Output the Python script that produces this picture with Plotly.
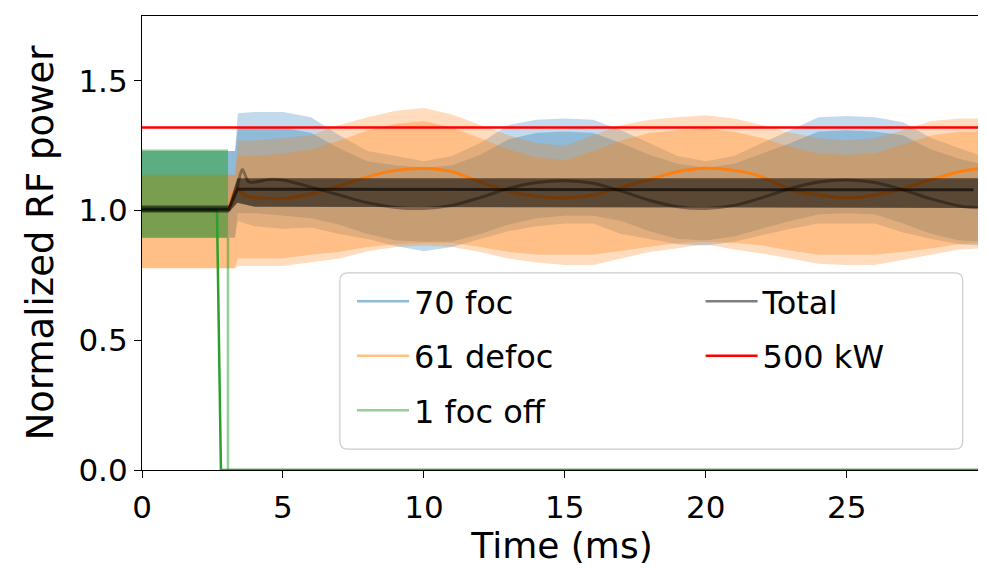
import plotly.graph_objects as go

# time grid (ms) used for the envelopes
t_env = [0, 3.3, 3.4, 4, 5, 6, 7, 8, 9, 10, 11, 12, 13, 14, 15, 16, 17, 18, 19, 20,
         21, 22, 23, 24, 25, 26, 27, 28, 29, 29.8]

# 70 foc: envelopes of the fast oscillation (outer = spike tips, inner = solid part)
foc_up_out = [1.23, 1.23, 1.375, 1.38, 1.38, 1.36, 1.29, 1.23, 1.21, 1.19, 1.21, 1.26, 1.33, 1.35,
              1.355, 1.35, 1.31, 1.26, 1.21, 1.19, 1.21, 1.26, 1.31, 1.36, 1.365, 1.36, 1.34,
              1.28, 1.24, 1.21]
foc_up_in = [1.23, 1.23, 1.32, 1.32, 1.32, 1.30, 1.24, 1.19, 1.175, 1.165, 1.175, 1.215, 1.275,
             1.30, 1.305, 1.30, 1.26, 1.215, 1.18, 1.165, 1.18, 1.22, 1.26, 1.305, 1.31, 1.305,
             1.29, 1.235, 1.20, 1.18]
foc_lo_in = [0.895, 0.895, 0.99, 0.99, 0.98, 0.97, 0.945, 0.91, 0.885, 0.88, 0.88, 0.91, 0.945,
             0.97, 0.98, 0.98, 0.96, 0.92, 0.89, 0.885, 0.90, 0.93, 0.96, 0.985, 0.99, 0.985,
             0.95, 0.91, 0.885, 0.88]
foc_lo_out = [0.895, 0.895, 0.96, 0.94, 0.93, 0.935, 0.91, 0.89, 0.863, 0.843, 0.86, 0.89, 0.92,
              0.94, 0.95, 0.95, 0.91, 0.89, 0.87, 0.865, 0.88, 0.905, 0.93, 0.95, 0.95, 0.95,
              0.915, 0.89, 0.87, 0.865]

# 61 defoc
defoc_up_out = [1.138, 1.138, 1.27, 1.27, 1.28, 1.29, 1.33, 1.36, 1.385, 1.395, 1.37, 1.33, 1.29,
                1.26, 1.25, 1.29, 1.33, 1.35, 1.36, 1.367, 1.355, 1.33, 1.30, 1.28, 1.27, 1.28,
                1.31, 1.345, 1.355, 1.355]
defoc_up_in = [1.138, 1.138, 1.21, 1.21, 1.22, 1.235, 1.27, 1.31, 1.335, 1.345, 1.32, 1.28, 1.235,
               1.205, 1.195, 1.23, 1.27, 1.30, 1.31, 1.315, 1.305, 1.28, 1.245, 1.22, 1.215,
               1.22, 1.255, 1.29, 1.305, 1.305]
defoc_lo_in = [0.778, 0.778, 0.815, 0.815, 0.815, 0.83, 0.84, 0.86, 0.87, 0.875, 0.875, 0.86,
               0.84, 0.83, 0.83, 0.83, 0.845, 0.86, 0.875, 0.88, 0.875, 0.865, 0.845, 0.83,
               0.83, 0.83, 0.84, 0.855, 0.87, 0.875]
defoc_lo_out = [0.778, 0.778, 0.786, 0.786, 0.786, 0.80, 0.815, 0.843, 0.86, 0.865, 0.86, 0.84,
                0.815, 0.80, 0.79, 0.79, 0.815, 0.84, 0.855, 0.87, 0.85, 0.835, 0.815, 0.795,
                0.79, 0.79, 0.81, 0.83, 0.85, 0.855]

# slow average of 61 defoc
t_defoc_avg = [3.05, 3.38, 3.6, 4, 5, 6, 7, 8, 9, 10, 11, 12, 13, 14, 15, 16, 17, 18, 19, 20,
               21, 22, 23, 24, 25, 26, 27, 28, 29, 29.8]
defoc_avg = [1.0, 1.09, 1.06, 1.05, 1.047, 1.065, 1.095, 1.13, 1.155, 1.162, 1.15, 1.11,
             1.075, 1.055, 1.049, 1.06, 1.09, 1.12, 1.15, 1.163, 1.155, 1.13, 1.08, 1.06, 1.049,
             1.06, 1.085, 1.12, 1.15, 1.163]

# 1 foc off
t_off = [0, 3.05]
off_up = [1.235, 1.235]
off_lo = [0.895, 0.895]
t_off_line = [3.05, 3.05, 29.8]
off_line = [0.895, 0.0, 0.0]
t_off_avg = [0, 2.66, 2.8, 29.8]
off_avg = [1.0, 1.0, 0.0, 0.0]

# Total
t_tot = [0, 3.08, 3.38, 4, 29.8]
tot_up = [1.02, 1.02, 1.125, 1.125, 1.125]
tot_lo = [0.993, 0.993, 1.03, 1.015, 1.01]
t_tot_flat = [0, 3.08, 3.38, 29.5]
tot_flat = [1.005, 1.005, 1.082, 1.08]
t_tot_slow = [3.38, 3.56, 3.8, 4.5, 5, 6, 7, 8, 9, 10, 11, 12, 13, 14, 15, 16, 17, 18, 19, 20,
              21, 22, 23, 24, 25, 26, 27, 28, 29, 29.8]
tot_slow = [1.087, 1.158, 1.11, 1.12, 1.118, 1.09, 1.06, 1.03, 1.012, 1.008, 1.02, 1.05, 1.085,
            1.108, 1.115, 1.105, 1.075, 1.04, 1.015, 1.008, 1.02, 1.05, 1.085, 1.11, 1.118,
            1.108, 1.08, 1.045, 1.018, 1.01]

# 500 kW limit
t_limit = [0, 29.8]
limit = [1.32, 1.32]

FONT = "DejaVu Sans"
FS = 31


def band(t, upper, lower, color):
    # closed polygon between two envelopes
    return go.Scatter(x=list(t) + list(t)[::-1], y=list(upper) + list(lower)[::-1],
                      fill="toself", fillcolor=color, line=dict(width=0),
                      mode="lines", hoverinfo="skip", showlegend=False)


fig = go.Figure()

# 70 foc
fig.add_trace(band(t_env, foc_up_out, foc_up_in, "rgba(31,119,180,0.27)"))
fig.add_trace(band(t_env, foc_up_in, foc_lo_in, "rgba(31,119,180,0.5)"))
fig.add_trace(band(t_env, foc_lo_in, foc_lo_out, "rgba(31,119,180,0.27)"))
# 61 defoc
fig.add_trace(band(t_env, defoc_up_out, defoc_up_in, "rgba(255,127,14,0.27)"))
fig.add_trace(band(t_env, defoc_up_in, defoc_lo_in, "rgba(255,127,14,0.5)"))
fig.add_trace(band(t_env, defoc_lo_in, defoc_lo_out, "rgba(255,127,14,0.27)"))
# 1 foc off
fig.add_trace(band(t_off, off_up, off_lo, "rgba(44,160,44,0.5)"))
fig.add_trace(go.Scatter(x=t_off_line, y=off_line, mode="lines", showlegend=False,
                         line=dict(color="rgba(44,160,44,0.5)", width=2.5)))
fig.add_trace(go.Scatter(x=t_off_avg, y=off_avg, mode="lines", showlegend=False,
                         line=dict(color="#2ca02c", width=2.5)))
fig.add_trace(go.Scatter(x=t_defoc_avg, y=defoc_avg, mode="lines", showlegend=False,
                         line=dict(color="#ff7f0e", width=3, shape="spline", smoothing=0.8)))
# Total
fig.add_trace(band(t_tot, tot_up, tot_lo, "rgba(0,0,0,0.55)"))
fig.add_trace(go.Scatter(x=t_tot_slow, y=tot_slow, mode="lines", showlegend=False,
                         line=dict(color="rgba(0,0,0,0.35)", width=3, shape="spline",
                                   smoothing=0.8)))
fig.add_trace(go.Scatter(x=t_tot_flat, y=tot_flat, mode="lines", showlegend=False,
                         line=dict(color="rgba(0,0,0,0.6)", width=3)))
fig.add_trace(go.Scatter(x=t_limit, y=limit, mode="lines", showlegend=False,
                         line=dict(color="red", width=2.5)))

# legend entries (two columns like the original)
for name, color, lg, grp in [("70 foc", "rgba(31,119,180,0.5)", "legend", "a"),
                             ("61 defoc", "rgba(255,127,14,0.5)", "legend", "b"),
                             ("1 foc off", "rgba(44,160,44,0.5)", "legend", "c"),
                             ("Total", "rgba(0,0,0,0.5)", "legend2", "d"),
                             ("500 kW", "red", "legend2", "e")]:
    fig.add_trace(go.Scatter(x=[None], y=[None], mode="lines", name=name, legend=lg,
                             legendgroup=grp, line=dict(color=color, width=2.5)))

# rounded legend frame in paper coords
x0, x1, y0, y1 = 0.2356, 0.977, 0.046, 0.434
rx, ry = 0.0096, 0.0176
path = (f"M{x0 + rx},{y0} L{x1 - rx},{y0} Q{x1},{y0} {x1},{y0 + ry} "
        f"L{x1},{y1 - ry} Q{x1},{y1} {x1 - rx},{y1} L{x0 + rx},{y1} "
        f"Q{x0},{y1} {x0},{y1 - ry} L{x0},{y0 + ry} Q{x0},{y0} {x0 + rx},{y0} Z")
fig.add_shape(type="path", path=path, xref="paper", yref="paper", layer="above",
              fillcolor="rgba(255,255,255,0.8)", line=dict(color="#cccccc", width=1.2))

leg = dict(font=dict(family=FONT, size=32, color="black"), bgcolor="rgba(0,0,0,0)",
           orientation="v", xanchor="left", yanchor="top", itemwidth=52,
           traceorder="grouped", tracegroupgap=10)
fig.update_layout(
    width=986, height=569,
    margin=dict(l=134, r=12, t=8, b=107),
    paper_bgcolor="white", plot_bgcolor="white",
    font=dict(family=FONT, size=FS, color="black"),
    showlegend=True,
    legend=dict(leg, x=0.25, y=0.432),
    legend2=dict(leg, x=0.665, y=0.432),
    xaxis=dict(range=[0, 29.8], tickvals=[0, 5, 10, 15, 20, 25], showgrid=False,
               zeroline=False, showline=True, mirror=True, linecolor="black", linewidth=1.2,
               ticks="outside", ticklen=7, tickwidth=1.2, tickcolor="black",
               ticklabelstandoff=3,
               title=dict(text="Time (ms)", standoff=6, font=dict(size=36)),
               tickfont=dict(family=FONT, size=FS)),
    yaxis=dict(range=[0, 1.75], tickvals=[0, 0.5, 1.0, 1.5], tickformat=".1f", showgrid=False,
               zeroline=False, showline=True, mirror=True, linecolor="black", linewidth=1.2,
               ticks="outside", ticklen=7, tickwidth=1.2, tickcolor="black",
               title=dict(text="Normalized RF power", standoff=13, font=dict(size=37)),
               tickfont=dict(family=FONT, size=FS)),
)

fig.write_html("out.html")
